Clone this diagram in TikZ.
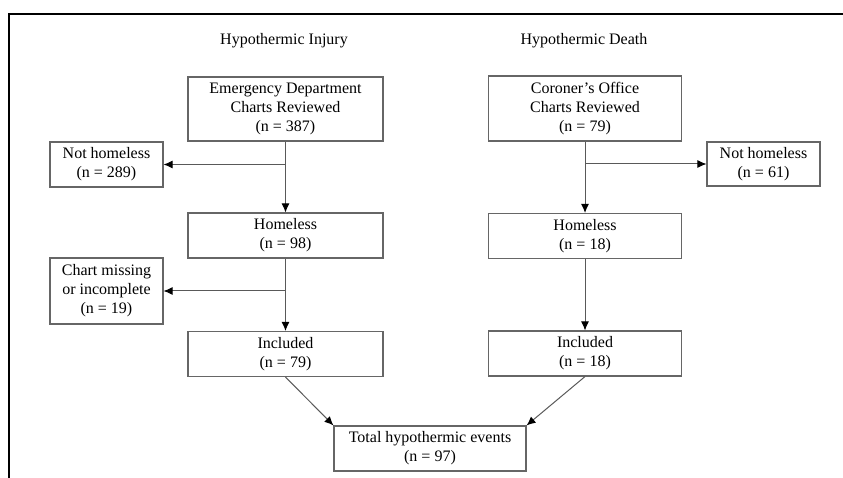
\documentclass[tikz,border=0pt]{standalone}
\usepackage{fontspec}
\setmainfont{Liberation Serif}
\usepackage{tikz}
\usetikzlibrary{arrows.meta,positioning}

\begin{document}
\begin{tikzpicture}[x=1pt,y=-1pt,
  boxstyle/.style={draw=black!60,line width=1.1pt,align=center,inner sep=0,
    font=\fontsize{16}{19}\selectfont,minimum width=195,minimum height=45},
  sidestyle/.style={boxstyle,minimum width=113},
  titlestyle/.style={font=\fontsize{16}{19}\selectfont},
  arrowstyle/.style={draw=black!65,line width=1pt,-{Latex[length=9pt,width=8pt,color=black]}}]
\useasboundingbox (0,0) rectangle (843,478);
\draw[line width=2.4pt] (9,478) -- (9,14) -- (843,14);

\node[titlestyle](t1) at (284,41){Hypothermic Injury};
\node[titlestyle](t2) at (584,41){Hypothermic Death};

% left column
\node[boxstyle,minimum height=64](ed) at (285.5,109){Emergency Department\\Charts Reviewed\\(n = 387)};
\node[boxstyle](h1) at (285.5,235.5){Homeless\\(n = 98)};
\node[boxstyle](i1) at (285.5,354){Included\\(n = 79)};
\node[sidestyle](nh1) at (106.5,164.5){Not homeless\\(n = 289)};
\node[sidestyle,minimum height=66](cm) at (106.5,291){Chart missing\\or incomplete\\(n = 19)};

% right column
\node[boxstyle,minimum width=193,minimum height=65](co) at (585,108.5){Coroner’s Office\\Charts Reviewed\\(n = 79)};
\node[boxstyle,minimum width=193](h2) at (585,236){Homeless\\(n = 18)};
\node[boxstyle,minimum width=193](i2) at (585,353.5){Included\\(n = 18)};
\node[sidestyle,minimum height=44](nh2) at (763.5,164){Not homeless\\(n = 61)};

\node[boxstyle,minimum width=192](tot) at (430,448.5){Total hypothermic events\\(n = 97)};

\foreach \a/\b in {ed/h1,h1/i1,co/h2,h2/i2}
  \draw[arrowstyle] (\a) -- (\b);
\foreach \a/\b in {ed/nh1,h1/cm,co/nh2}
  \draw[arrowstyle] (\a.south |- \b) -- (\b);
\draw[arrowstyle] (i1.south) -- (tot.north west);
\draw[arrowstyle] (i2.south) -- (tot.north east);

\end{tikzpicture}
\end{document}
